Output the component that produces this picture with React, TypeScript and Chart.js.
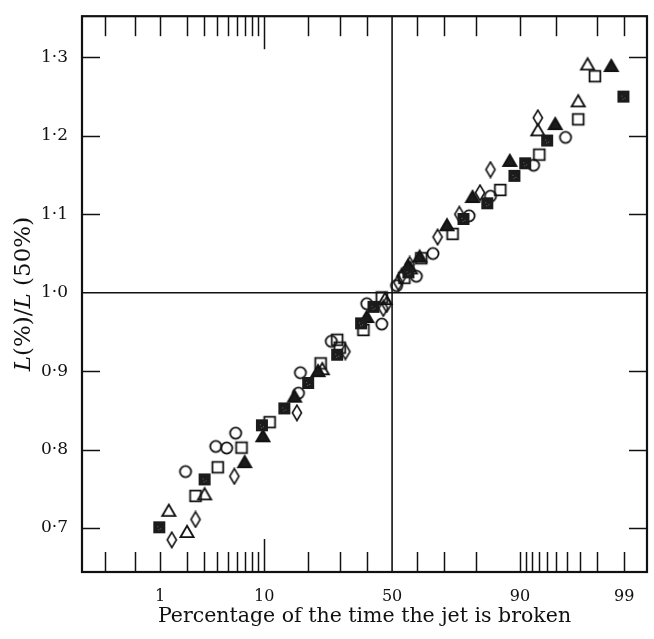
import React, { useEffect, useRef } from "react";
import { Chart, registerables } from "chart.js";

Chart.register(...registerables);

// ---- axis definitions (percent scale on normal-probability paper) ----
const xMinPct = 0.094;
const xMaxPct = 99.47;
const xTickLabels = [1, 10, 50, 90, 99];
const xMinorTop = [0.2, 0.5, 1, 2, 3, 4, 5, 6, 7, 8, 9, 10, 20, 30, 40, 60, 70, 80, 90, 95, 98, 99];
const xMinorBottom = [0.2, 0.5, 1, 2, 3, 4, 5, 6, 7, 8, 9, 10, 20, 30, 40, 60, 70, 80, 90, 91, 92, 93, 94, 95, 96, 97, 98, 99];
const yMin = 0.644;
const yMax = 1.3525;
const yTickValues = [0.7, 0.8, 0.9, 1.0, 1.1, 1.2, 1.3];

// ---- data: percentage of time broken (x) and L(%)/L(50%) (y) ----
const circlePct = [1.92, 3.86, 4.86, 5.84, 17.4, 17.9, 27.1, 40.0, 45.9, 51.8, 59.6, 65.9, 78.0, 83.8, 92.2, 95.9];
const circleVal = [0.772, 0.804, 0.802, 0.821, 0.872, 0.898, 0.938, 0.986, 0.960, 1.009, 1.021, 1.050, 1.098, 1.123, 1.1625, 1.198];

const squarePct = [2.44, 4.03, 6.56, 10.98, 23.7, 29.1, 30.0, 38.7, 45.9, 54.9, 61.5, 72.8, 86.1, 93.0, 96.9, 97.9];
const squareVal = [0.741, 0.7775, 0.8025, 0.835, 0.910, 0.940, 0.930, 0.9525, 0.994, 1.019, 1.044, 1.075, 1.131, 1.176, 1.221, 1.276];

const filledSquarePct = [0.98, 3.01, 9.6, 14.0, 20.0, 29.1, 37.8, 42.6, 56.5, 76.3, 83.0, 89.0, 90.9, 94.0, 98.98];
const filledSquareVal = [0.701, 0.762, 0.831, 0.8525, 0.885, 0.921, 0.961, 0.982, 1.026, 1.094, 1.114, 1.149, 1.165, 1.194, 1.250];

const trianglePct = [1.26, 1.99, 3.01, 24.2, 47.2, 57.3, 92.8, 96.9, 97.5];
const triangleVal = [0.722, 0.695, 0.743, 0.9025, 0.992, 1.031, 1.207, 1.244, 1.291];

const filledTrianglePct = [6.97, 9.77, 16.4, 22.9, 40.0, 56.4, 60.9, 70.9, 79.0, 88.1, 94.9, 98.6];
const filledTriangleVal = [0.784, 0.817, 0.8675, 0.900, 0.969, 1.034, 1.046, 1.086, 1.122, 1.168, 1.215, 1.289];

const diamondPct = [1.36, 2.44, 5.69, 17.0, 32.0, 46.5, 47.8, 52.5, 53.8, 57.0, 67.6, 75.0, 81.1, 83.8, 92.8];
const diamondVal = [0.685, 0.711, 0.766, 0.847, 0.925, 0.980, 0.985, 1.013, 1.021, 1.036, 1.071, 1.100, 1.1275, 1.157, 1.223];

const xTitle = "Percentage of the time the jet is broken";
const yTitleParts: [string, boolean][] = [["L", true], ["(%)/", false], ["L", true], [" (50%)", false]];

// inverse normal CDF (Acklam) – the probability-paper transform
function probit(p: number): number {
  const a = [-3.969683028665376e1, 2.209460984245205e2, -2.759285104469687e2, 1.38357751867269e2, -3.066479806614716e1, 2.506628277459239];
  const b = [-5.447609879822406e1, 1.615858368580409e2, -1.556989798598866e2, 6.680131188771972e1, -1.328068155288572e1];
  const c = [-7.784894002430293e-3, -3.223964580411365e-1, -2.400758277161838, -2.549732539343734, 4.374664141464968, 2.938163982698783];
  const d = [7.784695709041462e-3, 3.224671290700398e-1, 2.445134137142996, 3.754408661907416];
  const plow = 0.02425;
  const phigh = 1 - plow;
  let q: number, r: number;
  if (p < plow) {
    q = Math.sqrt(-2 * Math.log(p));
    return (((((c[0] * q + c[1]) * q + c[2]) * q + c[3]) * q + c[4]) * q + c[5]) / ((((d[0] * q + d[1]) * q + d[2]) * q + d[3]) * q + 1);
  }
  if (p <= phigh) {
    q = p - 0.5;
    r = q * q;
    return ((((((a[0] * r + a[1]) * r + a[2]) * r + a[3]) * r + a[4]) * r + a[5]) * q) / (((((b[0] * r + b[1]) * r + b[2]) * r + b[3]) * r + b[4]) * r + 1);
  }
  q = Math.sqrt(-2 * Math.log(1 - p));
  return -(((((c[0] * q + c[1]) * q + c[2]) * q + c[3]) * q + c[4]) * q + c[5]) / ((((d[0] * q + d[1]) * q + d[2]) * q + d[3]) * q + 1);
}
const pz = (pct: number) => probit(pct / 100);

function makeMarker(kind: string): HTMLCanvasElement {
  const cv = document.createElement("canvas");
  cv.width = 18;
  cv.height = 18;
  const g = cv.getContext("2d")!;
  g.strokeStyle = "#111";
  g.fillStyle = "#1b1b1b";
  g.lineWidth = 1.8;
  g.beginPath();
  if (kind === "circle") {
    g.arc(9, 9, 5.6, 0, Math.PI * 2);
    g.stroke();
  } else if (kind === "square") {
    g.rect(3.6, 3.6, 10.8, 10.8);
    g.stroke();
  } else if (kind === "fsquare") {
    g.rect(3, 3, 12, 12);
    g.fill();
    g.fillStyle = "#6a6a6a";
    g.fillRect(7, 8, 1, 1);
    g.fillRect(10, 10, 1, 1);
    g.fillRect(8, 11, 1, 1);
  } else if (kind === "triangle" || kind === "ftriangle") {
    g.moveTo(9, 2.8);
    g.lineTo(15.6, 14.2);
    g.lineTo(2.4, 14.2);
    g.closePath();
    if (kind === "ftriangle") {
      g.fill();
      g.stroke();
    } else g.stroke();
  } else if (kind === "diamond") {
    g.moveTo(9, 1.3);
    g.lineTo(13.6, 9);
    g.lineTo(9, 16.7);
    g.lineTo(4.4, 9);
    g.closePath();
    g.lineWidth = 1.6;
    g.stroke();
  }
  return cv;
}

const decor = {
  id: "decor",
  beforeDatasetsDraw(chart: any) {
    const { ctx, chartArea, scales } = chart;
    const { left, right, top, bottom } = chartArea;
    const x = scales.x;
    const y = scales.y;
    const line = (x1: number, y1: number, x2: number, y2: number) => {
      ctx.beginPath();
      ctx.moveTo(x1, y1);
      ctx.lineTo(x2, y2);
      ctx.stroke();
    };
    ctx.save();
    ctx.strokeStyle = "#111";
    ctx.lineWidth = 1.6;
    const x50 = x.getPixelForValue(pz(50));
    line(x50, top, x50, bottom);
    const y1 = y.getPixelForValue(1.0);
    line(left, y1, right, y1);
    ctx.lineWidth = 1.5;
    for (const p of xMinorTop) {
      const px = Math.round(x.getPixelForValue(pz(p))) + 0.5;
      line(px, top, px, top + (p === 10 ? 33 : 20));
    }
    for (const p of xMinorBottom) {
      const px = Math.round(x.getPixelForValue(pz(p))) + 0.5;
      line(px, bottom, px, bottom - (p === 10 ? 33 : 20));
    }
    for (const v of yTickValues) {
      if (v === 1.0) continue;
      const py = Math.round(y.getPixelForValue(v)) + 0.5;
      line(left, py, left + 18, py);
      line(right - 18, py, right, py);
    }
    ctx.lineWidth = 2.2;
    ctx.strokeRect(left, top, right - left, bottom - top);
    ctx.restore();
  },
  afterDraw(chart: any) {
    const { ctx, chartArea } = chart;
    const cy = (chartArea.top + chartArea.bottom) / 2;
    ctx.save();
    ctx.translate(24, cy);
    ctx.rotate(-Math.PI / 2);
    ctx.fillStyle = "#111";
    ctx.textBaseline = "middle";
    const fontFor = (it: boolean) => (it ? "italic " : "") + "23px 'DejaVu Serif'";
    let total = 0;
    for (const [t, it] of yTitleParts) {
      ctx.font = fontFor(it);
      total += ctx.measureText(t).width;
    }
    let cx = -total / 2;
    for (const [t, it] of yTitleParts) {
      ctx.font = fontFor(it);
      ctx.fillText(t, cx, 0);
      cx += ctx.measureText(t).width;
    }
    ctx.restore();
  },
};

export default function App() {
  const ref = useRef<HTMLCanvasElement | null>(null);
  useEffect(() => {
    const canvas = ref.current!;
    const mk = (pct: number[], val: number[]) => pct.map((p, i) => ({ x: pz(p), y: val[i] }));
    const ds = (data: any, kind: string) => ({
      data,
      pointStyle: makeMarker(kind),
      pointRadius: 6,
      showLine: false,
    });
    const chart = new Chart(canvas, {
      type: "scatter",
      data: {
        datasets: [
          ds(mk(filledSquarePct, filledSquareVal), "fsquare"),
          ds(mk(filledTrianglePct, filledTriangleVal), "ftriangle"),
          ds(mk(squarePct, squareVal), "square"),
          ds(mk(trianglePct, triangleVal), "triangle"),
          ds(mk(diamondPct, diamondVal), "diamond"),
          ds(mk(circlePct, circleVal), "circle"),
        ],
      },
      options: {
        animation: false,
        responsive: false,
        devicePixelRatio: 1,
        layout: { padding: { top: 5, right: 1, left: 0, bottom: 0 } },
        plugins: { legend: { display: false }, tooltip: { enabled: false } },
        scales: {
          x: {
            type: "linear",
            min: pz(xMinPct),
            max: pz(xMaxPct),
            grid: { display: false },
            border: { display: false },
            afterBuildTicks: (s: any) => {
              s.ticks = xTickLabels.map((p) => ({ value: pz(p) }));
            },
            afterFit: (s: any) => {
              s.height = 67;
            },
            ticks: {
              padding: 7,
              color: "#111",
              maxRotation: 0,
              autoSkip: false,
              font: { family: "'DejaVu Serif'", size: 16 },
              callback: (v: any) => {
                let best = xTickLabels[0];
                for (const p of xTickLabels) if (Math.abs(pz(p) - v) < Math.abs(pz(best) - v)) best = p;
                return String(best);
              },
            },
            title: {
              display: true,
              text: xTitle,
              color: "#111",
              padding: { top: 0, bottom: 10 },
              font: { family: "'DejaVu Serif'", size: 20.5 },
            },
          },
          y: {
            type: "linear",
            min: yMin,
            max: yMax,
            grid: { display: false },
            border: { display: false },
            afterBuildTicks: (s: any) => {
              s.ticks = yTickValues.map((v) => ({ value: v }));
            },
            afterFit: (s: any) => {
              s.width = 82;
            },
            ticks: {
              padding: 6,
              color: "#111",
              font: { family: "'DejaVu Serif'", size: 17 },
              callback: (v: any) => Number(v).toFixed(1).replace(".", "\u00b7"),
            },
          },
        },
      },
      plugins: [decor],
    } as any);
    return () => chart.destroy();
  }, []);
  return (
    <div style={{ position: "fixed", left: 0, top: 0, width: 654, height: 639, background: "#fff" }}>
      <canvas ref={ref} width={654} height={639} />
    </div>
  );
}
